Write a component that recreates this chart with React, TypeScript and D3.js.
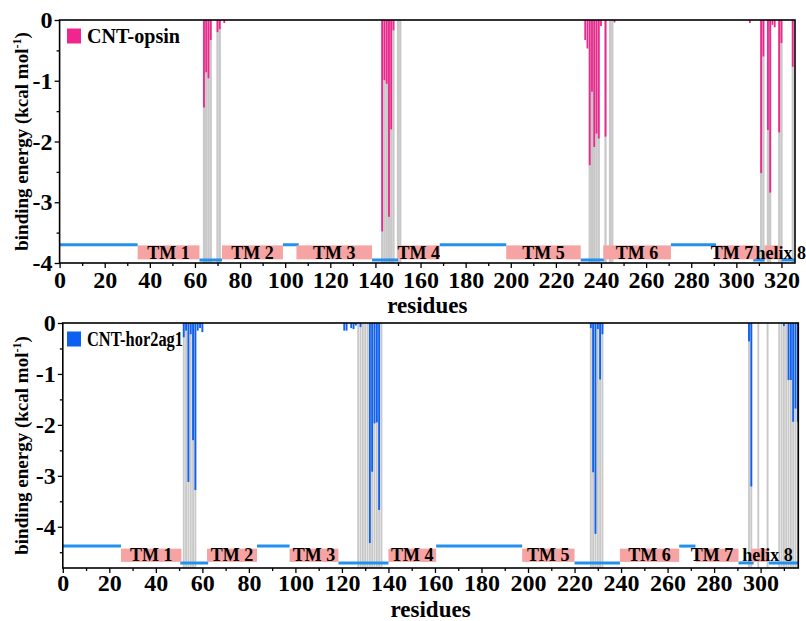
import React, { useEffect, useRef } from "react";
import * as d3 from "d3";

// ---- CNT-opsin (top panel) ----
const opsinResidues = [64, 65, 66, 67, 70, 71, 73, 143, 144, 145, 146, 147, 148, 233, 234, 235, 236, 237, 238, 239, 240, 242, 246, 306, 311, 312, 314, 315, 316, 317, 319, 320, 325];
const opsinEnergy = [-1.44, -0.86, -0.96, -0.33, -0.2, -0.15, -0.05, -3.48, -0.99, -1.05, -3.24, -1.8, -0.17, -0.33, -0.47, -2.39, -1.18, -2.09, -1.87, -1.95, -0.1, -1.92, -0.04, -0.05, -2.52, -0.6, -1.81, -2.84, -0.08, -0.12, -1.85, -0.38, -0.77];
const opsinContacts = [64, 65, 66, 67, 70, 71, 143, 144, 145, 146, 147, 148, 150, 151, 235, 236, 237, 238, 239, 242, 244, 245, 311, 312, 314, 315, 319, 320, 325];
const opsinHelixStart = [34.6, 72, 105, 150, 198, 241, 291, 312.5];
const opsinHelixEnd = [62, 99, 138.5, 168.5, 231, 271, 309.5, 320];
const opsinLoopStart = [0, 62, 99, 138.5, 168.5, 231, 271, 307.5, 320];
const opsinLoopEnd = [34.6, 72, 106, 150, 198, 241.5, 291, 312.5, 326];

// ---- CNT-hor2ag1 (bottom panel) ----
const horResidues = [52, 53, 54, 55, 56, 57, 58, 59, 60, 121, 122, 124, 125, 126, 128, 132, 133, 134, 135, 136, 227, 228, 229, 230, 231, 232, 295, 296, 310, 312, 313, 314, 315, 316];
const horEnergy = [-0.28, -0.15, -3.12, -0.22, -2.3, -3.28, -0.15, -0.1, -0.18, -0.15, -0.15, -0.1, -0.12, -0.05, -0.08, -4.32, -2.92, -1.97, -1.95, -3.67, -0.1, -2.93, -4.14, -0.12, -1.11, -0.22, -0.36, -3.21, -0.06, -1.12, -1.12, -1.94, -1.68, -1.94];
const horContacts = [52, 53, 54, 55, 56, 57, 127, 128, 129, 130, 131, 132, 133, 134, 135, 136, 137, 227, 228, 229, 230, 231, 232, 295, 296, 299, 303, 308, 309, 310, 311, 312, 313, 314, 315, 316];
const horHelixStart = [25, 62, 97.5, 140, 197.5, 239.5, 272, 296];
const horHelixEnd = [51, 83.5, 118.5, 160.5, 220, 265, 290.5, 303.5];
const horLoopStart = [0, 50.5, 83.5, 118.5, 160.5, 220, 265, 290.5, 303.5];
const horLoopEnd = [25, 62.5, 97.5, 140, 197.5, 239.5, 272, 297, 316.2];

const helixLabels = ["TM 1", "TM 2", "TM 3", "TM 4", "TM 5", "TM 6", "TM 7", "helix 8"];
const loopSide = ["out", "in", "out", "in", "out", "in", "out", "in", "in"];

const FONT = "'Liberation Serif', 'Times New Roman', serif";

function drawPanel(root, cfg) {
  const { left, right, top, bottom, xMax, yMin, residues, energy, contacts, barColor,
    helixStart, helixEnd, loopStart, loopEnd, outY, inY, rectTop, rectBottom, grayFrac,
    legend, legendLen, tickPad, clipId } = cfg;

  const x = d3.scaleLinear().domain([0, xMax]).range([left, right]);
  const y = d3.scaleLinear().domain([yMin, 0]).range([bottom, top]);
  const k = x(1) - x(0);

  const g = root.append("g");
  g.append("clipPath").attr("id", clipId)
    .append("rect").attr("x", left).attr("y", top).attr("width", right - left).attr("height", bottom - top);
  const plot = g.append("g").attr("clip-path", `url(#${clipId})`);

  // gray contact columns
  plot.selectAll("rect.gray").data(contacts).enter().append("rect")
    .attr("x", (d) => x(d) - (k * grayFrac) / 2)
    .attr("y", y(0))
    .attr("width", k * grayFrac)
    .attr("height", y(yMin) - y(0))
    .attr("fill", "#c8c8c8");

  // energy bars
  plot.selectAll("rect.bar").data(residues).enter().append("rect")
    .attr("x", (d) => x(d) - k * 0.4)
    .attr("y", y(0))
    .attr("width", k * 0.8)
    .attr("height", (d, i) => y(energy[i]) - y(0))
    .attr("fill", barColor);

  // loops
  plot.selectAll("line.loop").data(loopStart).enter().append("line")
    .attr("x1", (d) => x(d))
    .attr("x2", (d, i) => x(loopEnd[i]))
    .attr("y1", (d, i) => y(loopSide[i] === "out" ? outY : inY))
    .attr("y2", (d, i) => y(loopSide[i] === "out" ? outY : inY))
    .attr("stroke", "#2490ee")
    .attr("stroke-width", 3);

  // helices
  plot.selectAll("rect.helix").data(helixStart).enter().append("rect")
    .attr("x", (d) => x(d))
    .attr("y", y(rectTop))
    .attr("width", (d, i) => x(helixEnd[i]) - x(d))
    .attr("height", y(rectBottom) - y(rectTop))
    .attr("fill", "#f5a3a3");

  g.selectAll("text.helix").data(helixLabels).enter().append("text")
    .attr("x", (d, i) => {
      const mid = x((helixStart[i] + helixEnd[i]) / 2);
      if (i === 7) return x(helixStart[i]) - 9;
      if (i === 6) return mid - 5;
      return mid;
    })
    .attr("y", y(rectBottom) - 0.5)
    .attr("text-anchor", (d, i) => (i === 7 ? "start" : "middle"))
    .attr("font-family", FONT)
    .attr("font-weight", "bold")
    .attr("font-size", 18)
    .text((d) => d);

  // axes
  const xAxis = g.append("g").attr("transform", `translate(0, ${bottom})`)
    .call(d3.axisBottom(x).tickValues(d3.range(0, xMax + 0.01, 20)).tickSize(5).tickPadding(tickPad).tickFormat((d) => String(d)));
  g.append("g").attr("transform", `translate(0, ${bottom})`)
    .call(d3.axisBottom(x).tickValues(d3.range(10, xMax, 20)).tickSize(3).tickFormat(() => ""));
  const yAxis = g.append("g").attr("transform", `translate(${left}, 0)`)
    .call(d3.axisLeft(y).tickValues(d3.range(Math.ceil(yMin), 0.01, 1)).tickSize(5).tickPadding(2).tickFormat((d) => String(d)));
  g.append("g").attr("transform", `translate(${left}, 0)`)
    .call(d3.axisLeft(y).tickValues(d3.range(-0.5, yMin, -1)).tickSize(3).tickFormat(() => ""));

  g.selectAll(".domain").remove();
  g.selectAll(".tick line").attr("stroke", "#000").attr("stroke-width", 1.3);
  [xAxis, yAxis].forEach((a) =>
    a.selectAll("text").attr("font-family", FONT).attr("font-weight", "bold").attr("font-size", 24).attr("fill", "#000")
  );

  g.append("rect")
    .attr("x", left).attr("y", top)
    .attr("width", right - left).attr("height", bottom - top)
    .attr("fill", "none").attr("stroke", "#000").attr("stroke-width", 1.6);

  // axis titles
  const yt = g.append("text")
    .attr("transform", `translate(28, ${(top + bottom) / 2}) rotate(-90)`)
    .attr("text-anchor", "middle")
    .attr("font-family", FONT).attr("font-weight", "bold").attr("font-size", 19);
  yt.append("tspan").text("binding energy (kcal mol");
  yt.append("tspan").attr("dy", -7).attr("font-size", 12).text("-1");
  yt.append("tspan").attr("dy", 7).text(")");

  g.append("text")
    .attr("x", (left + right) / 2)
    .attr("y", cfg.titleY)
    .attr("text-anchor", "middle")
    .attr("font-family", FONT).attr("font-weight", "bold").attr("font-size", 23)
    .text("residues");

  // legend
  g.append("rect").attr("x", 67).attr("y", top + 8.5).attr("width", 14).attr("height", 15).attr("fill", barColor);
  g.append("text")
    .attr("x", 87).attr("y", top + 23)
    .attr("font-family", FONT).attr("font-weight", "bold").attr("font-size", 20)
    .attr("textLength", legendLen).attr("lengthAdjust", "spacingAndGlyphs")
    .text(legend);
}

const App = () => {
  const svgRef = useRef(null);

  useEffect(() => {
    const svg = d3.select(svgRef.current);
    svg.selectAll("*").remove();

    drawPanel(svg, {
      left: 59.6, right: 795, top: 20, bottom: 263, xMax: 326, yMin: -4,
      residues: opsinResidues, energy: opsinEnergy, contacts: opsinContacts, barColor: "#ef268d",
      helixStart: opsinHelixStart, helixEnd: opsinHelixEnd, loopStart: opsinLoopStart, loopEnd: opsinLoopEnd,
      outY: -3.7, inY: -3.95, rectTop: -3.71, rectBottom: -3.94, grayFrac: 1.0,
      legend: "CNT-opsin", legendLen: 93, tickPad: 3, titleY: 313, clipId: "clipTop",
    });

    drawPanel(svg, {
      left: 62.8, right: 798.3, top: 323, bottom: 568, xMax: 316.2, yMin: -4.81,
      residues: horResidues, energy: horEnergy, contacts: horContacts, barColor: "#0d60f0",
      helixStart: horHelixStart, helixEnd: horHelixEnd, loopStart: horLoopStart, loopEnd: horLoopEnd,
      outY: -4.38, inY: -4.71, rectTop: -4.43, rectBottom: -4.69, grayFrac: 0.8,
      legend: "CNT-hor2ag1", legendLen: 96, tickPad: 1, titleY: 617, clipId: "clipBottom",
    });
  }, []);

  return (
    <svg
      ref={svgRef}
      width={806}
      height={621}
      style={{ position: "absolute", left: 0, top: 0, background: "#fff" }}
    />
  );
};

export default App;
